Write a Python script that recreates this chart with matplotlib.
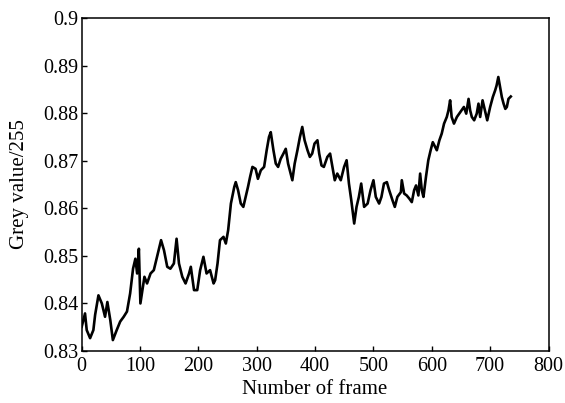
import matplotlib
matplotlib.use("Agg")
import matplotlib.pyplot as plt

# valores (frame, grey value/255)
frames = [
    0, 5.7, 8.6, 14.4, 20, 23, 28.7, 34.5, 40, 44, 49, 53.4, 60, 66, 72, 77.6,
    83, 88, 92, 95, 98, 100.6, 107.5, 112, 118, 123.6, 130.5, 136, 141, 146.6,
    152, 158, 162.6, 166.7, 172.4, 178, 184, 187, 192.5, 198, 203, 208.6, 214,
    220, 226, 228.7, 232.8, 237, 243, 247, 251, 255.7, 261.5,
    264, 268, 272.6, 277, 281, 285, 288.6, 292.6, 298, 302, 307, 312.6, 317,
    321, 324, 328.6, 332.6, 336.6, 341, 345.7, 349.7, 353.7, 358, 361, 365,
    369.7, 374, 378, 382, 387, 391, 395, 399, 404, 407, 411, 415, 421, 425.7,
    429.7, 433.7, 438, 444, 449.7, 454, 458, 462, 467, 471, 475, 479, 484, 490,
    495, 500, 504, 509.7, 513.7, 518, 523, 527, 532.6, 536.6, 541, 547,
    548.6, 552.6, 557, 561.7, 565.7, 569.7, 573, 577, 580, 582.9, 585.7, 590,
    594, 598, 601.7, 605.7, 608.6, 613, 617, 621, 625.7, 628.6, 631.4, 634,
    638, 643, 647, 651, 655, 659, 663, 665.7, 668.6, 672.6, 677, 680, 682.9,
    687, 691, 695, 700, 704.6, 708.6, 711, 714, 717, 720, 723, 726, 728.6,
    731.4, 735.4,
]
grey = [
    0.8351, 0.8379, 0.8344, 0.8327, 0.8344, 0.8376, 0.8417, 0.8400, 0.8372,
    0.8403, 0.8365, 0.8323, 0.8344, 0.8362, 0.8372, 0.8383, 0.8421, 0.8473,
    0.8494, 0.8463, 0.8515, 0.8400, 0.8456, 0.8442, 0.8463, 0.8470, 0.8505,
    0.8533, 0.8512, 0.8477, 0.8473, 0.8484, 0.8536, 0.8484, 0.8456, 0.8442,
    0.8463, 0.8477, 0.8428, 0.8428, 0.8470, 0.8498, 0.8463, 0.8470, 0.8442,
    0.8449, 0.8484, 0.8533, 0.8540, 0.8526, 0.8554, 0.8610, 0.8645,
    0.8655, 0.8638, 0.8610, 0.8603, 0.8624, 0.8645, 0.8666, 0.8687, 0.8683,
    0.8662, 0.8680, 0.8687, 0.8722, 0.8750, 0.8760, 0.8722, 0.8694, 0.8687,
    0.8704, 0.8715, 0.8725, 0.8694, 0.8673, 0.8659, 0.8694, 0.8722, 0.8750,
    0.8771, 0.8743, 0.8722, 0.8708, 0.8715, 0.8736, 0.8743, 0.8715, 0.8690,
    0.8687, 0.8708, 0.8715, 0.8687, 0.8659, 0.8673, 0.8659, 0.8687, 0.8701,
    0.8652, 0.8617, 0.8568, 0.8603, 0.8624, 0.8652, 0.8603, 0.8610, 0.8638,
    0.8659, 0.8624, 0.8610, 0.8624, 0.8652, 0.8655, 0.8638, 0.8617, 0.8603,
    0.8624, 0.8634,
    0.8659, 0.8631, 0.8627, 0.8620, 0.8613, 0.8638, 0.8648, 0.8627, 0.8673,
    0.8638, 0.8624, 0.8666, 0.8701, 0.8722, 0.8739, 0.8729, 0.8722, 0.8743,
    0.8757, 0.8778, 0.8792, 0.8806, 0.8827, 0.8792, 0.8778, 0.8792, 0.8799,
    0.8806, 0.8813, 0.8799, 0.8830, 0.8806, 0.8792, 0.8785, 0.8799, 0.8820,
    0.8792, 0.8827, 0.8806, 0.8785, 0.8813, 0.8834, 0.8848, 0.8858, 0.8876,
    0.8855, 0.8834, 0.8820, 0.8809, 0.8813, 0.8830, 0.8835,
]

xticks = [0, 100, 200, 300, 400, 500, 600, 700, 800]
yticks = [0.83, 0.84, 0.85, 0.86, 0.87, 0.88, 0.89, 0.9]
ytick_labels = ["0.83", "0.84", "0.85", "0.86", "0.87", "0.88", "0.89", "0.9"]

plt.rcParams["font.family"] = ["Liberation Serif", "DejaVu Serif"]

fig = plt.figure(figsize=(5.65, 4.03), dpi=100)
ax = fig.add_axes([0.1446, 0.129, 0.8262, 0.8263])

ax.plot(frames, grey, color="black", linewidth=1.9)

ax.set_xlim(0, 800)
ax.set_ylim(0.83, 0.9)
ax.set_xticks(xticks)
ax.set_yticks(yticks)
ax.set_yticklabels(ytick_labels)
ax.tick_params(direction="in", length=3.5, width=1, labelsize=14.5,
               top=False, right=False)
ax.tick_params(axis="x", pad=4.5)
ax.tick_params(axis="y", pad=2.5)

for s in ax.spines.values():
    s.set_linewidth(1.1)

ax.set_xlabel("Number of frame", fontsize=15, labelpad=3)
ax.set_ylabel("Grey value/255", fontsize=15, labelpad=10)

fig.savefig("out.png", dpi=100)
